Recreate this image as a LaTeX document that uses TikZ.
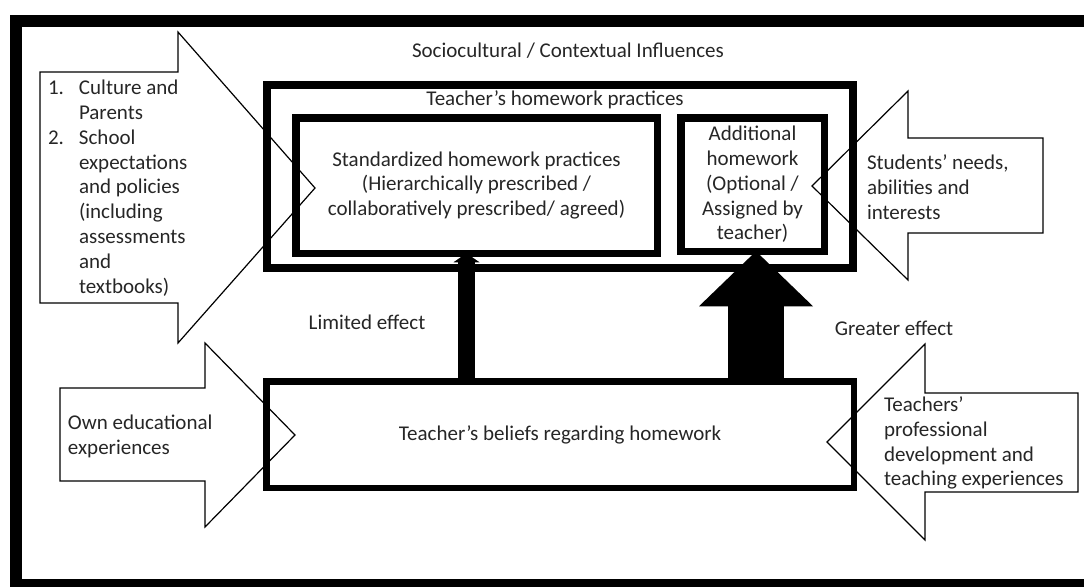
\documentclass[tikz,border=0pt]{standalone}
\usepackage{fontspec}
\setmainfont{Carlito}
\usetikzlibrary{arrows.meta,positioning}

\begin{document}
\begin{tikzpicture}[x=0.5pt,y=-0.5pt,
	txt/.style={inner sep=0pt,outer sep=0pt,font=\fontsize{10.5}{12.4}\selectfont,text=black!85},
	box/.style={draw,line width=3.75pt,line join=miter,inner sep=0pt,outer sep=0pt,txt,align=center},
	inflow/.style={draw,line width=0.6pt,line join=miter}]
\useasboundingbox (0,0) rectangle (1084,586);
\clip (0,0) rectangle (1084,586);
\draw[line width=6pt] (16,21) rectangle (1100,585);

% block arrows bringing influences in from the sides
\draw[inflow] (40,72) -- (178,72) -- (178,32) -- (315,188) -- (178,343) -- (178,303) -- (40,303) -- cycle;
\draw[inflow] (60,388) -- (205,388) -- (205,343) -- (295,435) -- (205,527) -- (205,481) -- (60,481) -- cycle;
\draw[inflow] (1043,138) -- (908,138) -- (908,91) -- (812,186) -- (908,280) -- (908,233) -- (1043,233) -- cycle;
\draw[inflow] (1078,393) -- (925,393) -- (925,344) -- (827,442) -- (925,540) -- (925,492) -- (1078,492) -- cycle;

\node[txt,anchor=west] (cult) at (48,189) {\begin{tabular}{@{}p{15.5pt}@{}l@{}}
1. & Culture and\\
   & Parents\\
2. & School\\
   & expectations\\
   & and policies\\
   & (including\\
   & assessments\\
   & and\\
   & textbooks)
\end{tabular}};
\node[txt,anchor=west,align=left] (own) at (68,436.5) {Own educational\\experiences};
\node[txt,anchor=west,align=left] (stud) at (867,187) {Students' needs,\\abilities and\\interests};
\node[txt,anchor=west,align=left] (prof) at (884,443) {Teachers'\\professional\\development and\\teaching experiences};
\node[txt] (socio) at (568,51) {Sociocultural / Contextual Influences};

% practices and beliefs
\node[box,line width=4pt,minimum width=293pt,minimum height=91.5pt] (hw) at (560,176.5) {};
\node[txt] (hwlbl) at (555,100) {Teacher's homework practices};
\node[box,minimum width=180.75pt,minimum height=67.75pt] (std) at (476.5,185.5) {Standardized homework practices\\(Hierarchically prescribed /\\collaboratively prescribed/ agreed)};
\node[box,minimum width=71.75pt,minimum height=66.75pt] (add) at (752.5,184.5) {Additional\\homework\\(Optional /\\Assigned by\\teacher)};
\node[box,line width=3.25pt,minimum width=293.75pt,minimum height=53.25pt] (bel) at (560,434.5) {Teacher's beliefs regarding homework};

\coordinate (lim) at (466.5,0);
\coordinate (grt) at (756,0);
\draw[line width=8.5pt,-{Triangle[length=4.5pt,width=13pt,line width=0pt]}] (bel.north -| lim) -- (std.south -| lim);
\draw[line width=28pt,-{Triangle[length=27.5pt,width=57pt,line width=0pt]}] (bel.north -| grt) -- (add.south -| grt);
\node[txt] (limlbl) at (367,322) {Limited effect};
\node[txt] (grtlbl) at (894,328) {Greater effect};
\end{tikzpicture}
\end{document}
